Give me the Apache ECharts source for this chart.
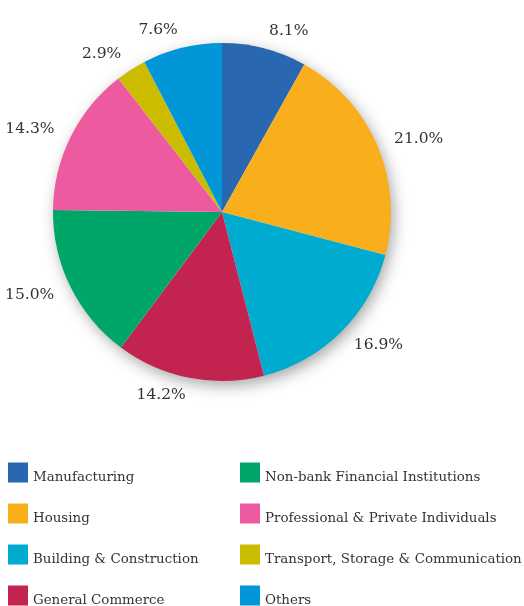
<!DOCTYPE html>
<html>
<head>
<meta charset="utf-8">
<script src="https://cdn.jsdelivr.net/npm/echarts@6/dist/echarts.min.js"></script>
<style>
html,body{margin:0;padding:0;background:#fff;}
#chart{width:524px;height:606px;}
</style>
</head>
<body>
<div id="chart"></div>
<script>
const categories = [
  'Manufacturing',
  'Housing',
  'Building & Construction',
  'General Commerce',
  'Non-bank Financial Institutions',
  'Professional & Private Individuals',
  'Transport, Storage & Communication',
  'Others'
];
const shares = [8.1, 21.0, 16.9, 14.2, 15.0, 14.3, 2.9, 7.6];
const colors = ['#2a67b1', '#f9ae1c', '#00abd0', '#c2244f', '#00a568', '#ee5a9f', '#cbbc00', '#0096d7'];

const FONT = 'DejaVu Serif';
const pieData = categories.map((n, i) => ({ name: n, value: shares[i], itemStyle: { color: colors[i] } }));
const total = shares.reduce((a, b) => a + b, 0);

const chart = echarts.init(document.getElementById('chart'), null, { renderer: 'canvas' });
const legendCommon = {
  orient: 'vertical',
  top: 461,
  height: 180,
  itemWidth: 20,
  itemHeight: 20,
  itemGap: 18,
  padding: 0,
  icon: 'rect',
  formatter: name => '\n' + name,
  textStyle: { fontFamily: FONT, fontSize: 13.4, color: '#333', lineHeight: 10 },
  selectedMode: false
};
chart.setOption({
  animation: false,
  legend: [
    Object.assign({}, legendCommon, { left: 8, data: categories.slice(0, 4) }),
    Object.assign({}, legendCommon, { left: 240, data: categories.slice(4) })
  ],
  series: [
    {
      type: 'pie',
      name: 'shares',
      center: [222, 212],
      radius: [0, 169],
      startAngle: 90,
      clockwise: true,
      silent: true,
      avoidLabelOverlap: false,
      z: 3,
      label: {
        show: true,
        position: 'outside',
        alignTo: 'none',
        distanceToLabelLine: 0,
        fontFamily: FONT,
        fontSize: 15.5,
        color: '#333',
        formatter: p => p.value.toFixed(1) + '%'
      },
      labelLine: { show: false, length: 18, length2: 0 },
      data: pieData
    },
    {
      type: 'pie',
      name: 'shadow',
      center: [222, 212],
      radius: [0, 168],
      silent: true,
      z: 1,
      label: { show: false },
      labelLine: { show: false },
      itemStyle: { color: '#ffffff', shadowBlur: 16, shadowOffsetX: 3, shadowOffsetY: 5, shadowColor: 'rgba(0,0,0,0.38)' },
      data: [{ name: 'total', value: total }]
    }
  ]
});
</script>
</body>
</html>
